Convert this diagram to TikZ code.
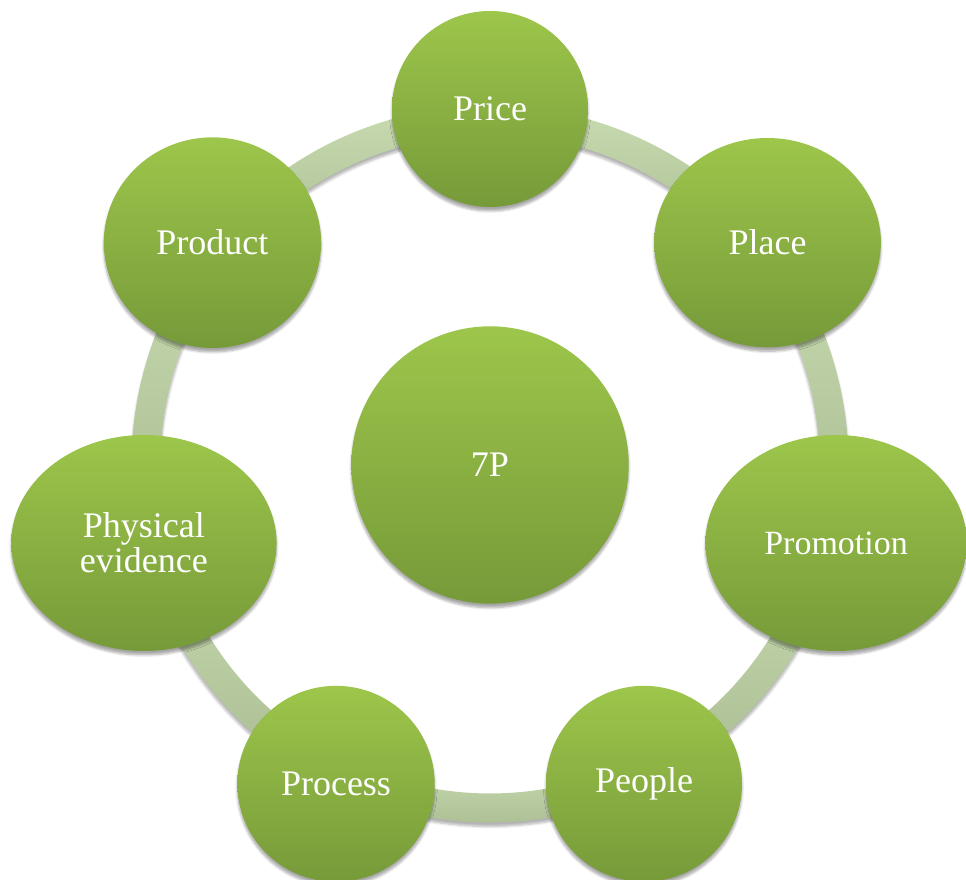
\documentclass[tikz,border=0pt]{standalone}
\usepackage{fontspec}
\setmainfont{Liberation Serif}
\usetikzlibrary{shapes.geometric, shadows.blur}
\definecolor{ptop}{HTML}{9DC64B}
\definecolor{pbot}{HTML}{769A39}
\definecolor{rtop}{HTML}{C9DCB1}
\definecolor{rbot}{HTML}{A9BB91}
\tikzset{
  pnode/.style={ellipse, inner sep=0pt, top color=ptop, bottom color=pbot, text=white, align=center,
    font=\fontsize{27}{26}\selectfont,
    blur shadow={shadow xshift=0pt, shadow yshift=-3pt, shadow opacity=35, shadow blur steps=6}},
  ringpart/.style={top color=rtop, bottom color=rbot,
    blur shadow={shadow xshift=0pt, shadow yshift=-3pt, shadow opacity=30, shadow blur steps=5}}
}
\begin{document}
\begin{tikzpicture}[x=0.75pt, y=0.75pt]
\useasboundingbox (0,0) rectangle (966,880);
\coordinate (c) at (490,416);
\foreach \a [evaluate=\a as \b using \a+51.43] in {90,141.43,192.86,244.29,295.71,347.14,398.57}
  \shade[ringpart] ([shift={(\a:358.5)}]c) arc[start angle=\a, delta angle=51.43, radius=358.5]
    -- ([shift={(\b:329.5)}]c) arc[start angle=\b, delta angle=-51.43, radius=329.5] -- cycle;
\node[pnode, minimum width=147pt, minimum height=147pt] (price) at ([shift={(90:355)}]c) {Price};
\node[pnode, minimum width=170pt, minimum height=157pt] (place) at ([shift={(38.57:355)}]c) {Place};
\node[pnode, minimum width=196pt, minimum height=162pt, font=\fontsize{25.5}{26}\selectfont] (promotion) at ([shift={(-12.86:355)}]c) {Promotion};
\node[pnode, minimum width=147pt, minimum height=147pt] (people) at ([shift={(-64.29:355)}]c) {People};
\node[pnode, minimum width=148pt, minimum height=147pt] (process) at ([shift={(-115.71:355)}]c) {Process};
\node[pnode, minimum width=199pt, minimum height=162pt] (evidence) at ([shift={(-167.14:355)}]c) {Physical\\evidence};
\node[pnode, minimum width=163pt, minimum height=158pt] (product) at ([shift={(141.43:355)}]c) {Product};
\node[pnode, minimum width=208pt, minimum height=208pt] (sevenp) at ([yshift=-0.75pt]c) {7P};
\end{tikzpicture}
\end{document}
